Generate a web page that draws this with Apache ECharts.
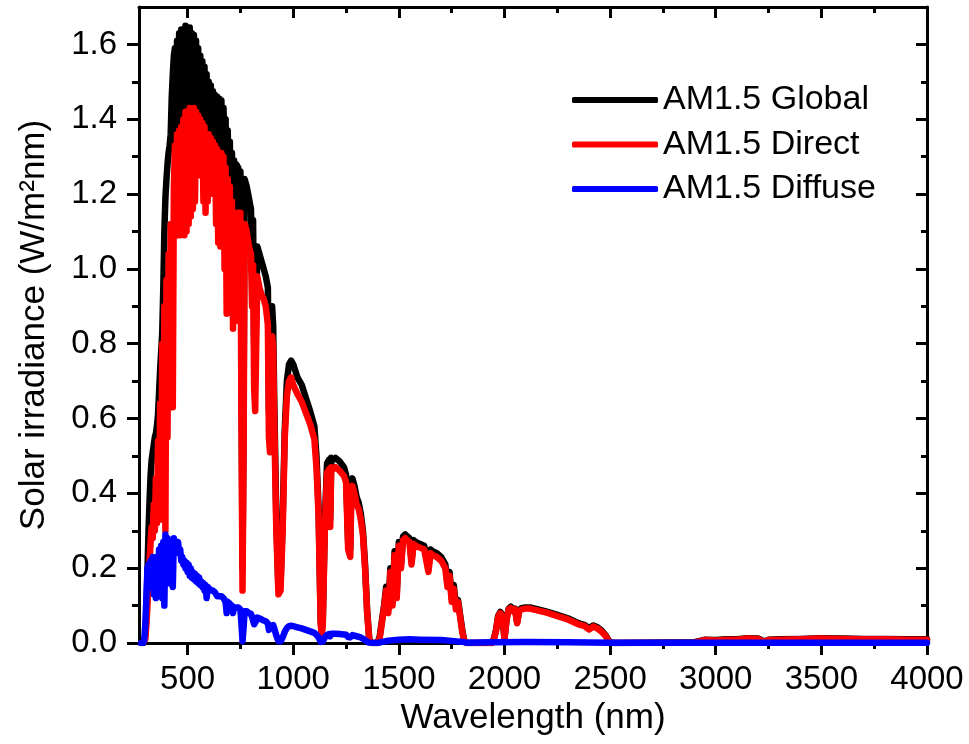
<!DOCTYPE html>
<html><head><meta charset="utf-8">
<script src="https://cdn.jsdelivr.net/npm/echarts@6/dist/echarts.min.js"></script>
<style>html,body{margin:0;padding:0;background:#fff}#c{width:969px;height:744px}</style>
</head><body><div id="c"></div>
<script>
// ---- data ----
const xMajorTicks = [500, 1000, 1500, 2000, 2500, 3000, 3500, 4000];
const xMinorTicks = [750, 1250, 1750, 2250, 2750, 3250, 3750];
const yMajorTicks = [0, 0.2, 0.4, 0.6, 0.8, 1.0, 1.2, 1.4, 1.6];
const yMinorTicks = [0.1, 0.3, 0.5, 0.7, 0.9, 1.1, 1.3, 1.5];
const seriesNames = ['AM1.5 Global', 'AM1.5 Direct', 'AM1.5 Diffuse'];
const xTitle = 'Wavelength (nm)';
const yTitle = 'Solar irradiance (W/m\u00B2nm)';

const globalIrr = [
[280,0],[290,0],[295,0.005],[300,0.02],[305,0.09],[310,0.19],[315,0.30],[320,0.38],[325,0.45],[330,0.49],[335,0.51],[340,0.53],[345,0.55],[350,0.56],[355,0.58],[360,0.61],[365,0.67],[370,0.73],[375,0.78],[380,0.83],[385,0.95],[390,1.10],[395,1.19],[400,1.24],[405,1.28],[410,1.31],[415,1.33],[420,1.36],[425,1.46],[430,1.52],[435,1.57],[440,1.59],[445,1.30],[450,1.61],[455,1.32],[460,1.63],[465,1.33],[470,1.64],[475,1.35],[480,1.635],[485,1.36],[490,1.65],[495,1.37],[500,1.64],[505,1.37],[510,1.645],[515,1.38],[520,1.63],[525,1.38],[530,1.625],[535,1.38],[540,1.61],[545,1.38],[550,1.59],[555,1.37],[560,1.57],[565,1.36],[570,1.555],[575,1.35],[580,1.54],[585,1.34],[590,1.52],[595,1.33],[600,1.50],[605,1.33],[610,1.49],[615,1.32],[620,1.475],[625,1.31],[630,1.465],[635,1.30],[640,1.46],[645,1.29],[650,1.455],[655,1.29],[660,1.45],[665,1.28],[670,1.43],[675,1.27],[680,1.40],[685,1.10],[690,1.37],[695,1.20],[700,1.34],[705,1.15],[710,1.31],[715,1.00],[720,1.29],[725,1.05],[730,1.28],[740,1.27],[745,1.20],[750,1.26],[755,0.75],[760,0.20],[765,0.60],[770,1.24],[780,1.22],[790,1.19],[800,1.16],[805,1.00],[810,1.13],[815,0.80],[820,0.72],[825,0.90],[830,1.06],[840,1.04],[850,1.02],[860,1.00],[870,0.98],[880,0.95],[885,0.62],[890,0.58],[895,0.80],[900,0.90],[905,0.85],[910,0.66],[920,0.33],[930,0.15],[940,0.16],[950,0.33],[960,0.57],[970,0.70],[980,0.745],[990,0.755],[1000,0.745],[1020,0.71],[1040,0.69],[1060,0.655],[1080,0.62],[1100,0.58],[1110,0.50],[1120,0.36],[1130,0.06],[1135,0.03],[1140,0.06],[1150,0.33],[1160,0.48],[1170,0.49],[1175,0.33],[1180,0.495],[1190,0.49],[1200,0.495],[1220,0.485],[1240,0.47],[1250,0.45],[1260,0.27],[1270,0.25],[1275,0.42],[1280,0.44],[1290,0.42],[1300,0.39],[1310,0.375],[1320,0.345],[1330,0.30],[1340,0.21],[1350,0.085],[1360,0.01],[1370,0],[1400,0],[1410,0.02],[1420,0.06],[1430,0.10],[1440,0.15],[1450,0.09],[1460,0.20],[1470,0.11],[1480,0.245],[1490,0.13],[1500,0.27],[1510,0.21],[1520,0.285],[1530,0.29],[1540,0.285],[1550,0.28],[1560,0.22],[1570,0.275],[1580,0.27],[1600,0.265],[1620,0.26],[1640,0.20],[1650,0.25],[1660,0.245],[1680,0.24],[1700,0.23],[1720,0.21],[1730,0.16],[1740,0.19],[1750,0.12],[1760,0.155],[1770,0.10],[1780,0.115],[1790,0.075],[1800,0.035],[1810,0.006],[1820,0],[1940,0],[1950,0.012],[1960,0.035],[1970,0.072],[1980,0.083],[1990,0.075],[2000,0.012],[2010,0.065],[2020,0.092],[2030,0.097],[2040,0.088],[2050,0.092],[2060,0.055],[2070,0.088],[2080,0.093],[2100,0.095],[2120,0.095],[2150,0.091],[2200,0.084],[2250,0.075],[2300,0.066],[2350,0.053],[2380,0.048],[2400,0.039],[2420,0.047],[2440,0.042],[2460,0.033],[2480,0.02],[2490,0.01],[2500,0.002],[2520,0],[2900,0.002],[2950,0.009],[3000,0.008],[3050,0.010],[3100,0.010],[3150,0.013],[3200,0.012],[3230,0.004],[3250,0.009],[3300,0.010],[3400,0.011],[3500,0.013],[3600,0.012],[3700,0.011],[3800,0.011],[3900,0.010],[4000,0.010]
];

const directIrr = [
[280,0],[290,0],[295,0.002],[300,0.01],[305,0.05],[310,0.10],[315,0.16],[320,0.22],[325,0.27],[330,0.31],[335,0.28],[340,0.37],[345,0.30],[350,0.44],[355,0.32],[360,0.54],[365,0.35],[370,0.64],[375,0.33],[380,0.80],[385,0.38],[390,0.90],[395,0.30],[400,0.97],[405,0.55],[410,1.04],[415,0.70],[420,1.12],[425,0.75],[430,0.63],[435,1.22],[440,1.33],[445,1.10],[450,1.36],[455,1.09],[460,1.37],[465,1.09],[470,1.38],[475,1.10],[480,1.40],[485,1.09],[490,1.42],[495,1.10],[500,1.40],[505,1.12],[510,1.43],[515,1.14],[520,1.42],[525,1.16],[530,1.43],[535,1.18],[540,1.42],[545,1.26],[550,1.41],[555,1.25],[560,1.40],[565,1.26],[570,1.39],[575,1.18],[580,1.38],[585,1.15],[590,1.36],[595,1.18],[600,1.36],[605,1.20],[610,1.35],[615,1.22],[620,1.34],[625,1.20],[630,1.33],[635,1.12],[640,1.32],[645,1.07],[650,1.31],[655,1.06],[660,1.31],[665,1.07],[670,1.30],[675,1.00],[680,1.27],[685,0.88],[690,1.24],[695,0.95],[700,1.22],[705,0.90],[710,1.18],[715,0.84],[720,1.15],[725,0.86],[730,1.14],[740,1.15],[745,1.05],[750,1.15],[755,0.60],[760,0.14],[765,0.50],[770,1.12],[780,1.10],[790,1.06],[800,1.04],[805,0.90],[810,1.01],[815,0.68],[820,0.62],[825,0.80],[830,0.98],[840,0.95],[850,0.93],[860,0.92],[870,0.90],[880,0.85],[885,0.55],[890,0.51],[895,0.70],[900,0.82],[905,0.79],[910,0.60],[920,0.30],[930,0.13],[940,0.14],[950,0.30],[960,0.55],[970,0.66],[980,0.70],[990,0.71],[1000,0.69],[1020,0.665],[1040,0.645],[1060,0.615],[1080,0.585],[1100,0.545],[1110,0.47],[1120,0.34],[1130,0.05],[1135,0.02],[1140,0.05],[1150,0.31],[1160,0.455],[1170,0.465],[1175,0.31],[1180,0.47],[1190,0.465],[1200,0.47],[1220,0.46],[1240,0.447],[1250,0.43],[1260,0.25],[1270,0.23],[1275,0.40],[1280,0.42],[1290,0.40],[1300,0.37],[1310,0.358],[1320,0.33],[1330,0.29],[1340,0.20],[1350,0.08],[1360,0.008],[1370,0],[1400,0],[1410,0.015],[1420,0.055],[1430,0.095],[1440,0.14],[1450,0.08],[1460,0.19],[1470,0.10],[1480,0.235],[1490,0.12],[1500,0.26],[1510,0.20],[1520,0.275],[1530,0.28],[1540,0.275],[1550,0.27],[1560,0.21],[1570,0.265],[1580,0.26],[1600,0.255],[1620,0.25],[1640,0.19],[1650,0.24],[1660,0.235],[1680,0.23],[1700,0.22],[1720,0.20],[1730,0.15],[1740,0.18],[1750,0.11],[1760,0.145],[1770,0.09],[1780,0.11],[1790,0.07],[1800,0.03],[1810,0.005],[1820,0],[1940,0],[1950,0.01],[1960,0.032],[1970,0.07],[1980,0.08],[1990,0.072],[2000,0.01],[2010,0.062],[2020,0.09],[2030,0.094],[2040,0.085],[2050,0.09],[2060,0.053],[2070,0.085],[2080,0.09],[2100,0.092],[2120,0.092],[2150,0.088],[2200,0.081],[2250,0.072],[2300,0.063],[2350,0.05],[2380,0.045],[2400,0.036],[2420,0.044],[2440,0.039],[2460,0.03],[2480,0.018],[2490,0.008],[2500,0.001],[2520,0],[2900,0.001],[2950,0.008],[3000,0.007],[3050,0.009],[3100,0.009],[3150,0.012],[3200,0.011],[3230,0.003],[3250,0.008],[3300,0.009],[3400,0.010],[3500,0.012],[3600,0.011],[3700,0.010],[3800,0.010],[3900,0.009],[4000,0.009]
];

const diffuseIrr = [
[280,0],[285,0],[290,0],[295,0.01],[300,0.05],[305,0.12],[310,0.20],[315,0.21],[320,0.15],[325,0.22],[330,0.17],[335,0.23],[340,0.13],[345,0.22],[350,0.12],[355,0.23],[360,0.16],[365,0.25],[370,0.15],[375,0.26],[380,0.12],[385,0.27],[390,0.10],[395,0.29],[400,0.18],[405,0.28],[410,0.16],[415,0.27],[420,0.20],[425,0.27],[430,0.15],[435,0.28],[440,0.25],[445,0.27],[450,0.25],[455,0.27],[460,0.24],[465,0.25],[470,0.22],[475,0.23],[480,0.21],[485,0.22],[490,0.20],[495,0.215],[500,0.19],[505,0.21],[510,0.18],[515,0.20],[520,0.175],[525,0.19],[530,0.17],[535,0.185],[540,0.165],[545,0.18],[550,0.16],[555,0.175],[560,0.155],[565,0.165],[570,0.15],[575,0.16],[580,0.14],[585,0.155],[590,0.12],[595,0.15],[600,0.145],[610,0.14],[620,0.14],[630,0.135],[640,0.125],[650,0.125],[660,0.125],[670,0.12],[680,0.11],[685,0.08],[690,0.11],[700,0.105],[705,0.09],[710,0.10],[715,0.08],[720,0.095],[730,0.095],[740,0.095],[750,0.09],[755,0.05],[760,0.005],[765,0.04],[770,0.085],[780,0.085],[790,0.08],[800,0.078],[805,0.07],[810,0.072],[815,0.05],[820,0.045],[825,0.06],[830,0.068],[840,0.066],[850,0.063],[860,0.06],[870,0.058],[880,0.052],[885,0.035],[890,0.032],[895,0.045],[900,0.05],[905,0.048],[910,0.04],[920,0.02],[930,0.005],[940,0.004],[950,0.015],[960,0.03],[970,0.04],[980,0.045],[990,0.046],[1000,0.045],[1020,0.042],[1040,0.039],[1060,0.035],[1080,0.031],[1100,0.027],[1110,0.022],[1120,0.015],[1130,0.003],[1140,0.004],[1150,0.015],[1160,0.022],[1170,0.024],[1175,0.018],[1180,0.025],[1200,0.025],[1220,0.024],[1240,0.023],[1250,0.022],[1260,0.016],[1270,0.015],[1280,0.021],[1300,0.018],[1320,0.015],[1340,0.008],[1350,0.003],[1360,0.001],[1400,0],[1420,0.003],[1450,0.006],[1500,0.009],[1550,0.01],[1600,0.009],[1700,0.008],[1800,0.003],[1820,0.001],[1950,0.002],[2100,0.003],[2300,0.002],[2500,0.001],[3000,0.001],[4000,0.001]
];

// ---- chart ----
const FONT = '"Liberation Sans", Arial, sans-serif';
const AXIS_COLOR = '#000';
const X_MIN = 270, X_MAX = 4000, Y_MIN = 0, Y_MAX = 1.7;

function xAx(opts) {
  return Object.assign({
    type: 'value', min: X_MIN, max: X_MAX, splitLine: { show: false },
    axisLine: { show: false, onZero: false },
    axisLabel: { show: false },
    axisTick: { show: false }
  }, opts);
}
function yAx(opts) {
  return Object.assign({
    type: 'value', min: Y_MIN, max: Y_MAX, splitLine: { show: false },
    axisLine: { show: false, onZero: false },
    axisLabel: { show: false },
    axisTick: { show: false }
  }, opts);
}
const lineSt = { show: true, onZero: false, lineStyle: { color: AXIS_COLOR, width: 3 } };
function tick(values, len, inside) {
  return { show: true, customValues: values, length: len, inside: !!inside,
           lineStyle: { color: AXIS_COLOR, width: 3 } };
}

const chart = echarts.init(document.getElementById('c'), null, { renderer: 'canvas' });
chart.setOption({
  animation: false,
  backgroundColor: '#fff',
  grid: { left: 139, right: 42, top: 7, bottom: 101, containLabel: false },
  legend: {
    orient: 'vertical', left: 567, top: 78, itemWidth: 86, itemHeight: 6,
    itemGap: 10.5, icon: 'roundRect',
    textStyle: { fontFamily: FONT, fontSize: 34, color: '#000', lineHeight: 34 },
    data: seriesNames
  },
  xAxis: [
    xAx({ position: 'bottom', axisLine: lineSt,
          axisTick: tick(xMajorTicks, 12, false),
          axisLabel: { show: true, customValues: xMajorTicks, margin: 20,
                       fontFamily: FONT, fontSize: 33, color: '#000',
                       formatter: v => String(Math.round(v)) },
          name: xTitle, nameLocation: 'middle', nameGap: 58,
          nameTextStyle: { fontFamily: FONT, fontSize: 35, color: '#000' } }),
    xAx({ position: 'bottom', axisTick: tick(xMinorTicks, 6, false) }),
    xAx({ position: 'top', axisLine: lineSt, axisTick: tick(xMajorTicks, 11, true) }),
    xAx({ position: 'top', axisTick: tick(xMinorTicks, 6, true) })
  ],
  yAxis: [
    yAx({ position: 'left', axisLine: lineSt,
          axisTick: tick(yMajorTicks, 12, false),
          axisLabel: { show: true, customValues: yMajorTicks, margin: 22,
                       fontFamily: FONT, fontSize: 33, color: '#000',
                       formatter: v => v.toFixed(1) },
          name: yTitle, nameLocation: 'middle', nameGap: 87, nameRotate: 90,
          nameTextStyle: { fontFamily: FONT, fontSize: 35, color: '#000' } }),
    yAx({ position: 'left', axisTick: tick(yMinorTicks, 7, false) }),
    yAx({ position: 'right', axisLine: lineSt, axisTick: tick(yMajorTicks, 11, true) }),
    yAx({ position: 'right', axisTick: tick(yMinorTicks, 6, true) })
  ],
  series: [
    { name: seriesNames[0], type: 'line', data: globalIrr, color: '#000000' },
    { name: seriesNames[1], type: 'line', data: directIrr, color: '#ff0000' },
    { name: seriesNames[2], type: 'line', data: diffuseIrr, color: '#0000ff' }
  ].map(s => Object.assign(s, {
    xAxisIndex: 0, yAxisIndex: 0, showSymbol: false, symbol: 'none',
    sampling: null, clip: true,
    lineStyle: { width: 6.5, color: s.color, join: 'round', cap: 'round' },
    itemStyle: { color: s.color },
    emphasis: { disabled: true }
  }))
});
</script>
</body></html>
